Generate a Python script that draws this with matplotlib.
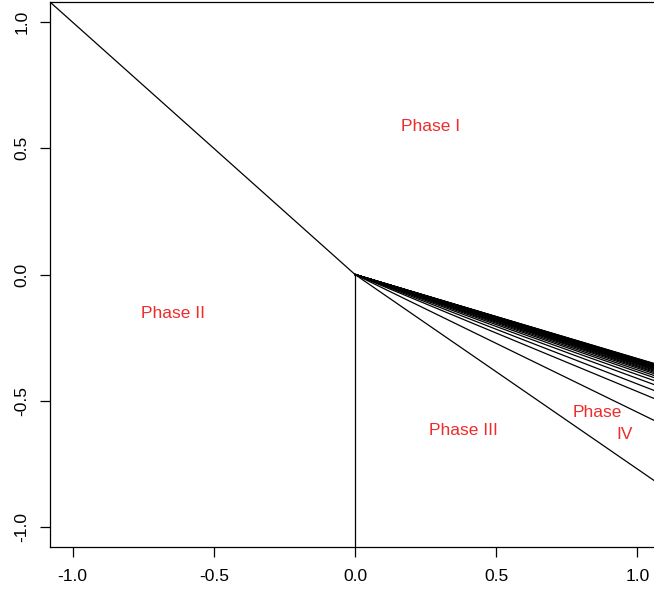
import matplotlib
matplotlib.use('Agg')
import numpy as np
import matplotlib.pyplot as plt

# slopes of the lines that fan out from the origin
fan_slopes = [-0.771, -0.546, -0.464, -0.434, -0.412, -0.397, -0.386,
              -0.378, -0.371, -0.366, -0.362, -0.358, -0.355, -0.352,
              -0.350, -0.348, -0.346, -0.344, -0.343, -0.341, -0.340,
              -0.339, -0.338, -0.337, -0.336, -0.335, -0.334, -0.333]

# phase labels: text, x, y
label_text = ['Phase I', 'Phase II', 'Phase III', 'Phase', 'IV']
label_x = [0.266, -0.645, 0.383, 0.858, 0.954]
label_y = [0.587, -0.155, -0.620, -0.548, -0.635]

ticks = [-1.0, -0.5, 0.0, 0.5, 1.0]
tick_labels = ['-1.0', '-0.5', '0.0', '0.5', '1.0']

plt.rcParams['font.family'] = ['Liberation Sans', 'DejaVu Sans']

fig = plt.figure(figsize=(6.54, 5.97), dpi=100)
ax = fig.add_axes([50 / 654, 50 / 597, 610 / 654, 545 / 597])
ax.set_xlim(-1.08, 1.08)
ax.set_ylim(-1.08, 1.08)

# boundary between phase I and phase II
ax.plot([-1.2, 0], [1.2, 0], color='black', lw=0.9)
# boundary between phase II and phase III
ax.plot([0, 0], [0, -1.2], color='black', lw=0.9)
# fan of lines
xe = 1.2
for s in fan_slopes:
    ax.plot([0, xe], [0, s * xe], color='black', lw=0.9)

for t, x, y in zip(label_text, label_x, label_y):
    ax.text(x, y, t, color='#EE2C2C', fontsize=12.5, ha='center', va='center')

ax.set_xticks(ticks)
ax.set_xticklabels(tick_labels)
ax.set_yticks(ticks)
ax.set_yticklabels(tick_labels, rotation=90, va='center')
ax.tick_params(direction='out', length=7, width=0.9, labelsize=12.5)
ax.tick_params(axis='x', pad=9)
ax.tick_params(axis='y', pad=8)
for sp in ax.spines.values():
    sp.set_linewidth(0.9)

fig.savefig('out.png', dpi=100)
